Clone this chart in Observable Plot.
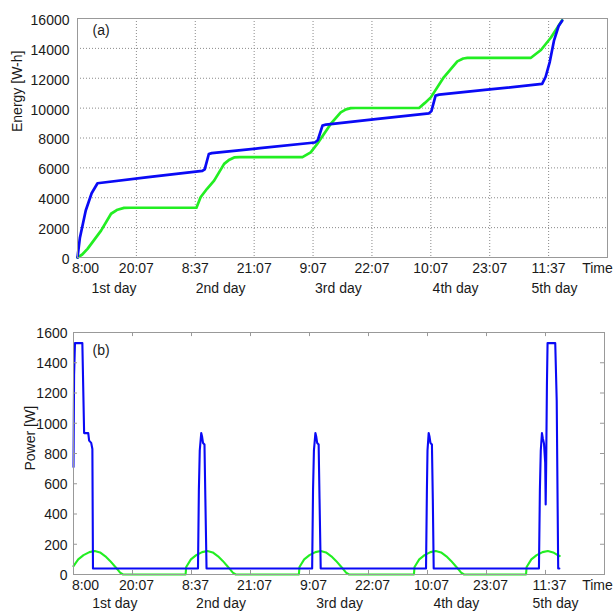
<!DOCTYPE html>
<html><head><meta charset="utf-8">
<script src="https://cdn.jsdelivr.net/npm/d3@7"></script>
<script src="https://cdn.jsdelivr.net/npm/@observablehq/plot@0.6"></script>
<style>
body{margin:0;background:#fff;}
#chart svg{display:block;}
</style>
</head><body><div id="chart"></div>
<script>
// ---- tick labels / categories ----
const xTickLabels = ["8:00","20:07","8:37","21:07","9:07","22:07","10:07","23:07","11:37","Time"];
const dayLabels = ["1st day","2nd day","3rd day","4th day","5th day"];
const dayLabelPosTop = [0.62, 2.43, 4.43, 6.42, 8.10];
const dayLabelPosBottom = [0.70, 2.50, 4.51, 6.49, 8.17];
const energyTicks = [0,2000,4000,6000,8000,10000,12000,14000,16000];
const powerTicks = [0,200,400,600,800,1000,1200,1400,1600];

// ---- (a) Energy [W-h] ----
const energyBlueT = [0,0.04,0.14,0.24,0.34,1.2,2.12,2.16,2.23,2.28,3.1,4.03,4.08,4.16,4.22,5.1,5.97,6.01,6.08,6.14,7.0,7.89,7.95,8.02,8.09,8.17,8.23];
const energyBlueE = [0,1300,3150,4300,4970,5380,5800,5900,6930,6990,7320,7700,7850,8830,8900,9280,9650,9800,10840,10900,11250,11620,12100,13100,14500,15500,15850];
const energyGreenT = [0,0.08,0.17,0.4,0.57,0.68,0.79,0.9,2.02,2.09,2.2,2.32,2.49,2.58,2.66,2.75,3.82,3.96,4.07,4.3,4.47,4.56,4.64,4.72,5.8,5.9,6.0,6.22,6.45,6.55,6.62,6.7,7.7,7.87,8.04,8.23];
const energyGreenE = [0,200,580,1800,2930,3200,3320,3330,3330,4030,4600,5150,6270,6550,6700,6720,6720,7040,7600,8940,9720,9920,10000,10010,10010,10350,10720,12060,13130,13320,13360,13370,13370,13890,14730,15880];

// ---- (b) Power [W] ----
const powerBlueT = [0,0.01,0.025,0.15,0.18,0.25,0.265,0.30,0.32,0.33,0.34,
  2.11,2.125,2.14,2.165,2.18,2.195,2.22,2.235,2.255,
  4.045,4.06,4.075,4.10,4.115,4.13,4.155,4.17,4.19,
  5.975,5.99,6.0,6.02,6.035,6.05,6.075,6.09,6.105,
  7.889,7.905,7.92,7.94,7.955,7.975,7.995,8.003,8.012,8.024,8.035,8.165,8.19,8.215,8.235];
const powerBlueP = [710,1320,1530,1530,935,935,885,870,830,40,40,
  40,560,820,935,910,870,860,500,40,
  40,560,820,935,910,870,860,500,40,
  40,560,820,935,910,870,860,500,40,
  40,560,820,935,900,864,740,463,740,1250,1530,1530,1150,40,40];
const powerGreenT = [0,0.08,0.17,0.27,0.36,0.45,0.54,0.62,0.71,0.79,0.84,
  1.9,1.91,1.99,2.08,2.18,2.27,2.36,2.45,2.53,2.62,2.70,2.75,
  3.82,3.83,3.91,4.0,4.1,4.19,4.28,4.37,4.45,4.54,4.62,4.67,
  5.77,5.78,5.86,5.95,6.05,6.14,6.23,6.32,6.40,6.49,6.57,6.62,
  7.67,7.68,7.76,7.85,7.95,8.04,8.13,8.20,8.24];
const powerGreenP = [55,100,128,148,155,146,120,90,50,12,0,
  0,50,100,128,148,155,146,120,90,50,12,0,
  0,50,100,128,148,155,146,120,90,50,12,0,
  0,50,100,128,148,155,146,120,90,50,12,0,
  0,50,100,128,148,155,146,130,122];

const zip = (T, V) => T.map((t, i) => ({t, v: V[i]}));
const energyBlue = zip(energyBlueT, energyBlueE);
const energyGreen = zip(energyGreenT, energyGreenE);
const powerBlue = zip(powerBlueT, powerBlueP);
const powerGreen = zip(powerGreenT, powerGreenP);

const FONT = "'Liberation Sans', Arial, Helvetica, sans-serif";
const BLUE = "#0a0af5", GREEN = "#22ee22", FRAME = "#999", GRID = "#8a8a8a", TEXT = "#1a1a1a";
const midTicks = xTickLabels.map((_, i) => i).slice(1, 9);
const innerPowerTicks = powerTicks.slice(1, -1);
const style = {fontFamily: FONT, fontSize: "14px", color: TEXT, background: "#fff", overflow: "visible"};

const topPlot = Plot.plot({
  width: 616, height: 300,
  marginLeft: 77, marginRight: 9, marginTop: 18, marginBottom: 43,
  style,
  x: {domain: [0, 9], axis: null},
  y: {domain: [0, 16000], axis: null},
  marks: [
    Plot.gridX(midTicks, {stroke: GRID, strokeOpacity: 1, strokeDasharray: "1,2"}),
    Plot.gridY(energyTicks.slice(1, -1), {stroke: GRID, strokeOpacity: 1, strokeDasharray: "1,2"}),
    Plot.line(energyGreen, {x: "t", y: "v", stroke: GREEN, strokeWidth: 2.7, strokeLinejoin: "round"}),
    Plot.line(energyBlue, {x: "t", y: "v", stroke: BLUE, strokeWidth: 2.7, strokeLinejoin: "round"}),
    Plot.frame({stroke: FRAME}),
    Plot.axisY({ticks: energyTicks, tickSize: 0, tickPadding: 8, dy: 2, tickFormat: d3.format("d"), label: null}),
    Plot.axisX({ticks: midTicks, tickSize: 0, tickPadding: 6, tickFormat: i => xTickLabels[i], label: null}),
    Plot.text([xTickLabels[0]], {x: 0, frameAnchor: "bottom", dx: 8, dy: 6, lineAnchor: "top", text: d => d}),
    Plot.text([xTickLabels[9]], {x: 9, frameAnchor: "bottom", dx: -10, dy: 6, lineAnchor: "top", text: d => d}),
    Plot.text(dayLabels, {x: (d, i) => dayLabelPosTop[i], frameAnchor: "bottom", dy: 26, lineAnchor: "top", text: d => d}),
    Plot.text(["(a)"], {frameAnchor: "top-left", dx: 15, dy: 7, textAnchor: "start", lineAnchor: "top", text: d => d}),
    Plot.text(["Energy [W-h]"], {frameAnchor: "left", rotate: -90, dx: -60, dy: -6, text: d => d})
  ]
});

const bottomPlot = Plot.plot({
  width: 616, height: 312,
  marginLeft: 73, marginRight: 12, marginTop: 32, marginBottom: 38,
  style,
  x: {domain: [0, 9], axis: null},
  y: {domain: [0, 1600], axis: null},
  marks: [
    Plot.line(powerGreen, {x: "t", y: "v", stroke: GREEN, strokeWidth: 2.1, strokeLinejoin: "round"}),
    Plot.line(powerBlue, {x: "t", y: "v", stroke: BLUE, strokeWidth: 2.1, strokeLinejoin: "round"}),
    Plot.frame({stroke: FRAME}),
    // inward tick marks (MATLAB style box ticks)
    Plot.ruleX(midTicks, {x: d => d, y1: 0, y2: 27, stroke: FRAME}),
    Plot.ruleX(midTicks, {x: d => d, y1: 1573, y2: 1600, stroke: FRAME}),
    Plot.ruleY(innerPowerTicks, {y: d => d, x1: 0, x2: 0.068, stroke: FRAME}),
    Plot.ruleY(innerPowerTicks, {y: d => d, x1: 8.932, x2: 9, stroke: FRAME}),
    Plot.axisY({ticks: powerTicks, tickSize: 0, tickPadding: 6, dy: 1, tickFormat: d3.format("d"), label: null}),
    Plot.axisX({ticks: midTicks, tickSize: 0, tickPadding: 6, dx: 4, tickFormat: i => xTickLabels[i], label: null}),
    Plot.text([xTickLabels[0]], {x: 0, frameAnchor: "bottom", dx: 12, dy: 6, lineAnchor: "top", text: d => d}),
    Plot.text([xTickLabels[9]], {x: 9, frameAnchor: "bottom", dx: -7, dy: 6, lineAnchor: "top", text: d => d}),
    Plot.text(dayLabels, {x: (d, i) => dayLabelPosBottom[i], frameAnchor: "bottom", dy: 24, lineAnchor: "top", text: d => d}),
    Plot.text(["(b)"], {frameAnchor: "top-left", dx: 19, dy: 13, textAnchor: "start", lineAnchor: "top", text: d => d}),
    Plot.text(["Power [W]"], {frameAnchor: "left", rotate: -90, dx: -43, dy: 17, text: d => d})
  ]
});

const chart = document.getElementById("chart");
chart.appendChild(topPlot);
chart.appendChild(bottomPlot);
</script>
</body></html>
